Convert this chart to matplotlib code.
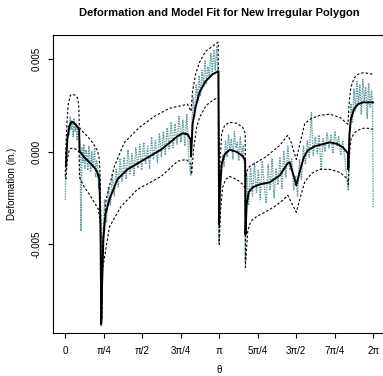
import numpy as np
import matplotlib
matplotlib.use('Agg')
import matplotlib.pyplot as plt

plt.rcParams['font.family'] = ['Liberation Sans', 'DejaVu Sans']

# values in units of 1e-3 in.
# model fit (solid), one list for the whole polygon, jumps at the vertices
model_theta = [0.014, 0.041, 0.082, 0.123, 0.164, 0.225, 0.282, 0.290, 0.389, 0.491, 0.593, 0.654, 0.695, 0.720, 0.733,
               0.742, 0.777, 0.818, 0.900, 1.063, 1.268, 1.616, 1.963, 2.290, 2.393, 2.495, 2.556, 2.566,
               2.574, 2.597, 2.658, 2.740, 2.863, 3.006, 3.125, 3.138,
               3.155, 3.190, 3.252, 3.354, 3.497, 3.620, 3.671, 3.677,
               3.701, 3.742, 3.824, 3.967, 4.172, 4.376, 4.540, 4.581, 4.714, 4.785, 4.867, 4.949, 5.092, 5.235,
               5.399, 5.542, 5.665, 5.767, 5.773,
               5.780, 5.798, 5.828, 5.890, 5.971, 6.074, 6.278]
model_vals = [-0.79, 0.66, 1.37, 1.61, 1.58, 1.42, 1.21, 0.02, -0.31, -0.58, -0.85, -1.12, -1.50, -4.20, -9.3,
              -7.98, -4.74, -3.39, -2.58, -1.50, -0.96, -0.42, 0.12, 0.83, 0.99, 0.94, 0.66, -0.25,
              0.12, 1.48, 2.39, 3.21, 3.80, 4.18, 4.34, -3.93,
              -2.04, -0.69, -0.15, 0.10, -0.01, -0.25, -0.47, -4.47,
              -2.85, -2.20, -1.93, -1.77, -1.66, -1.28, -0.63, -0.58, -1.82, -1.07, -0.31, 0.07, 0.29, 0.39,
              0.50, 0.42, 0.23, -0.09, -0.96,
              -0.69, 0.94, 1.75, 2.29, 2.56, 2.66, 2.66]

# upper band (dashed)
upper_theta = [0.0, 0.010, 0.031, 0.061, 0.102, 0.143, 0.204, 0.256, 0.276, 0.286, 0.348, 0.450, 0.552, 0.654, 0.695, 0.716,
               0.746, 0.763, 0.832, 1.002, 1.207, 1.513, 1.820, 2.127, 2.495, 2.566,
               2.597, 2.658, 2.740, 2.863, 3.006, 3.119,
               3.141, 3.160, 3.190, 3.252, 3.354, 3.497, 3.620, 3.671,
               3.675, 3.701, 3.763, 3.906, 4.110, 4.376, 4.540, 4.601, 4.714, 4.785, 4.888, 5.031, 5.194, 5.399,
               5.603, 5.767,
               5.798, 5.828, 5.890, 5.971, 6.074, 6.176, 6.278]
upper_vals = [-1.34, 0.12, 1.48, 2.56, 3.04, 3.10, 3.04, 2.88, 2.39, 1.31, 1.10, 0.83, 0.50, 0.07, -0.42, -1.77,
              -9.06, -4.90, -2.58, -0.79, 0.50, 1.31, 1.91, 2.34, 2.56, 2.18,
              3.26, 4.18, 4.83, 5.42, 5.69, 5.91,
              -2.58, -0.42, 0.94, 1.42, 1.58, 1.53, 1.31, 0.99,
              -1.77, -1.07, -0.79, -0.58, -0.25, 0.34, 0.88, 0.56, -0.42, 0.39, 1.53, 1.80, 1.96, 2.02,
              1.85, 1.48,
              2.82, 3.48, 3.96, 4.18, 4.26, 4.23, 4.18]

# lower band (dashed)
lower_theta = [0.014, 0.041, 0.082, 0.123, 0.184, 0.245, 0.282, 0.290, 0.389, 0.491, 0.593, 0.675, 0.716,
               0.733, 0.763, 0.900, 1.139, 1.472, 1.957, 2.290, 2.468, 2.571,
               2.577, 2.618, 2.679, 2.740, 2.877, 3.006, 3.125,
               3.141, 3.170, 3.211, 3.272, 3.354, 3.497, 3.620, 3.671,
               3.675, 3.691, 3.722, 3.783, 3.906, 4.070, 4.274, 4.438, 4.540, 4.714, 4.785, 4.888, 5.031, 5.194,
               5.399, 5.603, 5.767,
               5.777, 5.798, 5.828, 5.890, 5.971, 6.074, 6.176, 6.278]
lower_vals = [-1.50, -0.42, 0.12, 0.18, 0.18, 0.07, -0.04, -1.39, -1.93, -2.31, -2.74, -3.12, -3.93,
              -9.43, -6.33, -4.07, -2.96, -2.04, -1.34, -0.52, -0.42, -0.69,
              -1.23, 0.12, 1.31, 1.85, 2.50, 2.77, 2.93,
              -5.01, -3.12, -1.93, -1.50, -1.34, -1.50, -1.77, -1.98,
              -6.25, -5.55, -4.31, -3.77, -3.50, -3.28, -2.96, -2.63, -2.36, -3.28, -2.58, -1.61, -1.17, -0.96,
              -0.96, -1.12, -1.50,
              -1.77, -0.15, 0.66, 0.99, 1.15, 1.26, 1.26, 1.21]

# measured deformation (teal, dotted)
data_theta = [0.00, 0.02, 0.04, 0.06, 0.08, 0.10, 0.12, 0.14, 0.16, 0.18, 0.20, 0.22, 0.24, 0.26, 0.28,
              0.30, 0.32, 0.34, 0.36, 0.38, 0.40, 0.42, 0.44, 0.46, 0.48, 0.50, 0.52, 0.54, 0.56, 0.58,
              0.60, 0.62, 0.64, 0.66, 0.68, 0.70, 0.72, 0.733,
              0.76, 0.80, 0.84, 0.88, 0.92, 0.96, 1.00, 1.04, 1.08, 1.12, 1.16, 1.20, 1.24, 1.28, 1.32,
              1.36, 1.40, 1.44, 1.48, 1.52, 1.56, 1.60, 1.64, 1.68, 1.72, 1.76, 1.80, 1.84, 1.88, 1.92,
              1.96, 2.00, 2.04, 2.08, 2.12, 2.16, 2.20, 2.24, 2.28, 2.32, 2.36, 2.40, 2.44, 2.48, 2.52, 2.56,
              2.58, 2.61, 2.64, 2.67, 2.70, 2.73, 2.76, 2.79, 2.82, 2.85, 2.88, 2.91, 2.94, 2.97, 3.00,
              3.03, 3.06, 3.09, 3.12, 3.135,
              3.15, 3.18, 3.21, 3.24, 3.27, 3.30, 3.33, 3.36, 3.39, 3.42, 3.45, 3.48, 3.51, 3.54, 3.57,
              3.60, 3.63, 3.66, 3.675,
              3.70, 3.74, 3.78, 3.82, 3.86, 3.90, 3.94, 3.98, 4.02, 4.06, 4.10, 4.14, 4.18, 4.22, 4.26,
              4.30, 4.34, 4.38, 4.42, 4.46, 4.50, 4.54, 4.58, 4.62, 4.66, 4.70, 4.74, 4.78, 4.82, 4.86,
              4.90, 4.94, 4.98, 5.02, 5.06, 5.10, 5.14, 5.18, 5.22, 5.26, 5.30, 5.34, 5.38, 5.42, 5.46,
              5.50, 5.54, 5.58, 5.62, 5.66, 5.70, 5.74, 5.773,
              5.80, 5.83, 5.86, 5.89, 5.92, 5.95, 5.98, 6.01, 6.04, 6.07, 6.10, 6.13, 6.16, 6.19, 6.22,
              6.25, 6.27, 6.283]
data_vals = [-2.6, 0.2, 0.3, 1.4, 0.9, 1.9, 1.2, 1.7, 0.8, 1.8, 1.1, 1.5, 0.6, 1.4, 0.9,
             0.5, -4.3, 0.2, -0.6, 0.4, -0.9, 0.1, -0.2, -1.0, 0.3, -0.4, -1.1, 0.0, -0.9, -0.3,
             0.2, -1.4, -0.5, -0.8, -2.0, -1.2, -6.5, -9.4,
             -5.0, -2.6, -3.8, -1.9, -2.9, -1.2, -2.4, -0.9, -1.9, -0.4, -1.6, -0.3, -1.5, 0.1, -1.2,
             -0.1, -1.3, 0.2, -0.9, 0.4, -1.0, 0.5, -0.7, 0.3, -0.9, 0.8, -0.4, 0.6, -0.6, 1.0,
             -0.3, 1.1, -0.2, 1.3, 0.1, 1.6, 0.2, 1.5, 0.4, 1.9, 0.5, 1.7, 0.3, 2.0, -0.4, -1.3,
             1.2, 2.9, 1.9, 3.6, 2.8, 4.1, 3.0, 4.4, 3.5, 4.9, 3.7, 4.6, 4.0, 5.3, 4.2,
             5.5, 4.4, 5.7, 4.1, -4.9,
             -3.0, -1.6, -0.2, -0.8, 0.6, -0.3, 0.9, 0.1, 0.7, -0.4, 1.1, 0.2, 0.5, -0.5, 0.8,
             -0.2, 0.3, -1.0, -5.9,
             -1.2, -2.9, -0.8, -2.4, -0.6, -2.2, -1.0, -2.6, -0.5, -1.9, -2.8, -0.7, -2.1, -0.4, -2.5,
             -0.9, -1.8, -0.3, -2.0, 0.0, -1.4, 0.3, -1.0, -0.4, -2.1, -1.3, -2.4, -0.4, -1.5, 0.3,
             -0.7, 0.6, -0.3, 2.1, -0.2, 0.8, -0.1, 0.9, -1.0, 0.7, 0.0, 1.0, 0.2, 0.9, -0.1,
             1.1, 0.3, 0.8, -0.2, 0.6, -0.3, -1.3, -2.1,
             0.5, 2.6, 1.6, 3.4, 2.2, 3.8, 2.5, 3.6, 2.0, 3.9, 2.7, 3.5, 1.8, 3.7, 2.4,
             3.3, 2.6, -3.0]

tick_pos = [0, np.pi/4, np.pi/2, 3*np.pi/4, np.pi, 5*np.pi/4, 3*np.pi/2, 7*np.pi/4, 2*np.pi]
tick_labels = ['0', 'π/4', 'π/2', '3π/4', 'π', '5π/4', '3π/2', '7π/4', '2π']
ytick_pos = [-0.005, 0.0, 0.005]
ytick_labels = ['-0.005', '0.000', '0.005']

scale = 1e-3

fig = plt.figure(figsize=(3.83, 3.76), dpi=100)
ax = fig.add_axes([53/383, 1-333/376, (385.5-53)/383, (333-35)/376])

ax.plot(data_theta, np.array(data_vals)*scale, color='#5F9EA0', lw=1.0, ls=(0, (1, 0.8)))
ax.plot(model_theta, np.array(model_vals)*scale, color='black', lw=1.4)
ax.plot(upper_theta, np.array(upper_vals)*scale, color='black', lw=0.8, ls=(0, (2.2, 1.8)))
ax.plot(lower_theta, np.array(lower_vals)*scale, color='black', lw=0.8, ls=(0, (2.2, 1.8)))

ax.set_xlim(-0.251, 6.534)
ax.set_ylim(-0.0098, 0.0063)
ax.set_xticks(tick_pos)
ax.set_xticklabels(tick_labels)
ax.set_yticks(ytick_pos)
ax.set_yticklabels(ytick_labels, rotation=90, va='center')
ax.tick_params(direction='out', length=3.6, width=0.8, labelsize=7)
ax.tick_params(axis='x', pad=6)
ax.tick_params(axis='y', pad=4.5)
for s in ax.spines.values():
    s.set_linewidth(0.8)

fig.text(219/383, 1-13/376, 'Deformation and Model Fit for New Irregular Polygon',
         ha='center', va='center', fontsize=8, fontweight='bold')
fig.text(219/383, 1-370/376, 'θ', ha='center', va='center', fontsize=7)
fig.text(12/383, 1-184/376, 'Deformation (in.)', ha='center', va='center', rotation=90, fontsize=7)

fig.savefig('out.png', dpi=100)
